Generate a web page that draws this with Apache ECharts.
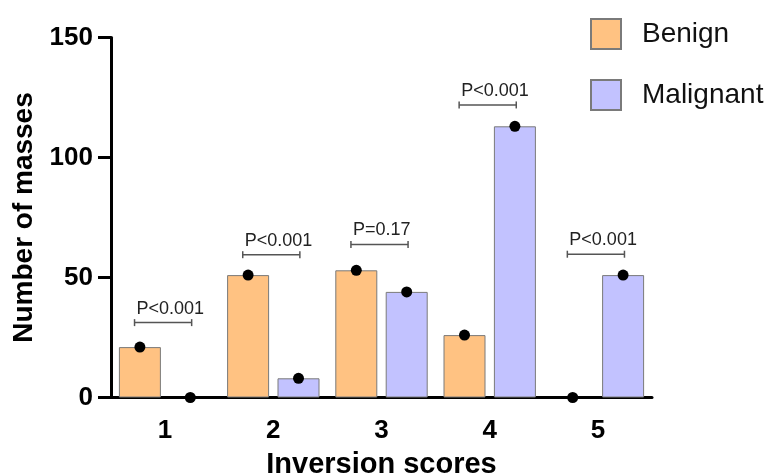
<!DOCTYPE html>
<html>
<head>
<meta charset="utf-8">
<script src="https://cdn.jsdelivr.net/npm/echarts@6/dist/echarts.min.js"></script>
<style>
html,body{margin:0;padding:0;background:#fff;}
#chart{width:771px;height:474px;}
</style>
</head>
<body>
<div id="chart"></div>
<script>
// ---- data ----
var categories = ['1', '2', '3', '4', '5'];
var benign = [21, 51, 53, 26, 0];
var malignant = [0, 8, 44, 113, 51];
var pLabels = ['P<0.001', 'P<0.001', 'P=0.17', 'P<0.001', 'P<0.001'];
var pBracketY = [31.2, 59.5, 63.8, 121.9, 59.7];
var yTicks = [0, 50, 100, 150];

var FONT = 'Arial, "Liberation Sans", sans-serif';
var chart = echarts.init(document.getElementById('chart'), null, {renderer: 'canvas'});

var bracketData = pBracketY.map(function (v, i) { return [i, v, pLabels[i]]; });
function barItems(arr) {
  return arr.map(function (v) {
    return v === 0 ? {value: v, itemStyle: {borderWidth: 0, opacity: 0}} : v;
  });
}

var option = {
  backgroundColor: '#ffffff',
  animation: false,
  legend: {
    left: 585,
    top: 13,
    orient: 'vertical',
    itemWidth: 30,
    itemHeight: 30,
    itemGap: 29,
    icon: 'rect',
    data: ['Benign', 'Malignant'],
    textStyle: {fontFamily: FONT, fontSize: 28, color: '#111', padding: [0, 0, 0, 16]}
  },
  grid: {left: 111, right: 119, top: 37.5, bottom: 76.5, containLabel: false, outerBoundsMode: 'none'},
  xAxis: {
    type: 'category',
    data: categories,
    name: 'Inversion scores',
    nameLocation: 'middle',
    nameGap: 53,
    nameTextStyle: {fontFamily: FONT, fontSize: 29, fontWeight: 'bold', color: '#000'},
    axisLine: {lineStyle: {color: '#000', width: 3}},
    axisTick: {alignWithLabel: true, length: 13, lineStyle: {color: '#000', width: 3}},
    axisLabel: {fontFamily: FONT, fontSize: 26, fontWeight: 'bold', color: '#000', margin: 20}
  },
  yAxis: {
    type: 'value',
    min: yTicks[0],
    max: yTicks[yTicks.length - 1],
    interval: 50,
    name: 'Number of masses',
    nameLocation: 'middle',
    nameGap: 72,
    nameTextStyle: {fontFamily: FONT, fontSize: 28, fontWeight: 'bold', color: '#000'},
    axisLine: {show: true, lineStyle: {color: '#000', width: 3}},
    axisTick: {show: true, length: 13, lineStyle: {color: '#000', width: 3}},
    axisLabel: {fontFamily: FONT, fontSize: 26, fontWeight: 'bold', color: '#000', margin: 18},
    splitLine: {show: false}
  },
  series: [
    {
      name: 'Benign', type: 'bar', data: barItems(benign),
      barWidth: 42, barGap: '20%',
      itemStyle: {color: '#FFC282', borderColor: '#7a7a7a', borderWidth: 1}
    },
    {
      name: 'Malignant', type: 'bar', data: barItems(malignant),
      barWidth: 42, barGap: '20%',
      itemStyle: {color: '#C2C2FF', borderColor: '#7a7a7a', borderWidth: 1}
    },
    {
      name: 'BenignDots', type: 'pictorialBar', data: benign,
      barWidth: 42, barGap: '20%', z: 5,
      symbol: 'circle', symbolSize: 11, symbolPosition: 'end', symbolOffset: [0, '-50%'],
      itemStyle: {color: '#000'}, legendHoverLink: false
    },
    {
      name: 'MalignantDots', type: 'pictorialBar', data: malignant,
      barWidth: 42, barGap: '20%', z: 5,
      symbol: 'circle', symbolSize: 11, symbolPosition: 'end', symbolOffset: [0, '-50%'],
      itemStyle: {color: '#000'}, legendHoverLink: false
    },
    {
      name: 'pvalues', type: 'custom', data: bracketData, z: 6,
      renderItem: function (params, api) {
        var c = api.coord([api.value(0), api.value(1)]);
        var band = api.size([1, 0])[0];
        var half = band * 0.264;
        var cx = c[0] - 2;
        var y = c[1];
        var x1 = cx - half, x2 = cx + half;
        var stroke = {stroke: '#555', lineWidth: 1.5};
        return {
          type: 'group',
          children: [
            {type: 'line', shape: {x1: x1, y1: y, x2: x2, y2: y}, style: stroke},
            {type: 'line', shape: {x1: x1, y1: y - 3.5, x2: x1, y2: y + 3.5}, style: stroke},
            {type: 'line', shape: {x1: x2, y1: y - 3.5, x2: x2, y2: y + 3.5}, style: stroke},
            {type: 'text', style: {
              text: pLabels[params.dataIndex], x: x1 + 2, y: y - 5,
              textAlign: 'left', textVerticalAlign: 'bottom',
              fontFamily: FONT, fontSize: 18, fill: '#222'
            }}
          ]
        };
      }
    }
  ]
};
chart.setOption(option);
</script>
</body>
</html>
